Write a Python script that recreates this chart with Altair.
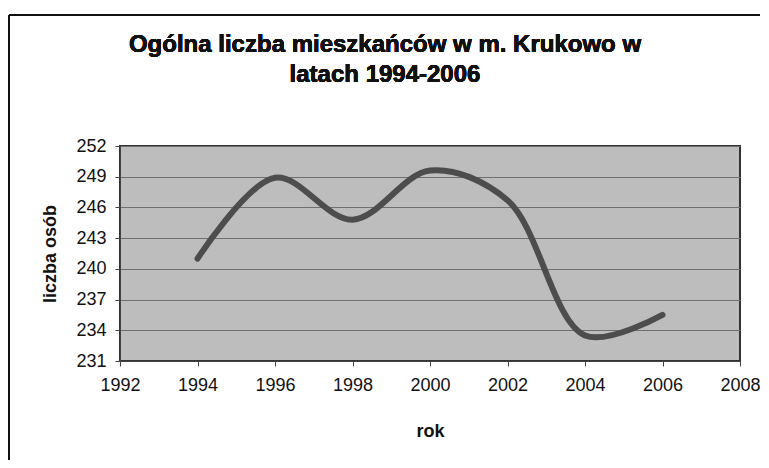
import altair as alt
import pandas as pd

years = [1994, 1996, 1998, 2000, 2002, 2004, 2006]
people = [241.0, 248.9, 244.8, 249.6, 246.7, 233.5, 235.5]

x_ticks = [1992, 1994, 1996, 1998, 2000, 2002, 2004, 2006, 2008]
y_ticks = [231, 234, 237, 240, 243, 246, 249, 252]

title_lines = ["Ogólna liczba mieszkańców w m. Krukowo w", "latach 1994-2006"]

df = pd.DataFrame({"rok": years, "liczba": people})

FONT = "Liberation Sans"

line = alt.Chart(df).mark_line(
    interpolate="catmull-rom", color="#4d4d4d", strokeWidth=6, strokeCap="round"
).encode(
    x=alt.X("rok:Q", scale=alt.Scale(domain=[1992, 2008], nice=False, zero=False),
            axis=alt.Axis(values=x_ticks, format="d", title="rok", grid=False,
                          labelFlush=False,
                          labelFontSize=18, titleFontSize=18, labelPadding=10,
                          titlePadding=28, tickSize=5, tickColor="#444",
                          domainColor="#444", labelColor="#111", titleColor="#111",
                          labelFont=FONT, titleFont=FONT, titleFontWeight="bold")),
    y=alt.Y("liczba:Q", scale=alt.Scale(domain=[231, 252], nice=False, zero=False),
            axis=alt.Axis(values=y_ticks, title="liczba osób", grid=True,
                          labelFlush=False,
                          gridColor="#6f6f6f", gridWidth=1,
                          labelFontSize=18, titleFontSize=18, labelPadding=9,
                          titlePadding=16, tickSize=5, tickColor="#444",
                          domainColor="#444", labelColor="#111", titleColor="#111",
                          labelFont=FONT, titleFont=FONT, titleFontWeight="bold")),
)

t1 = alt.Chart(df).mark_text(
    text=title_lines[0], font=FONT, fontSize=24, fontWeight="bold", color="#111",
    align="center", baseline="middle"
).encode(x=alt.value(265), y=alt.value(-101))
t2 = alt.Chart(df).mark_text(
    text=title_lines[1], font=FONT, fontSize=24, fontWeight="bold", color="#111",
    align="center", baseline="middle"
).encode(x=alt.value(265), y=alt.value(-71))

left_border = alt.Chart(df).mark_rule(color="#111", strokeWidth=2).encode(
    x=alt.value(-111), y=alt.value(-131), y2=alt.value(320)
)
top_border = alt.Chart(df).mark_rule(color="#111", strokeWidth=2).encode(
    x=alt.value(-111), x2=alt.value(640), y=alt.value(-131)
)

chart = alt.layer(line, t1, t2, left_border, top_border).properties(
    width=620,
    height=215,
    padding={"left": 112, "top": 138, "right": 21, "bottom": 99},
    autosize=alt.AutoSizeParams(type="none"),
    background="white",
).configure_view(
    fill="#bdbdbd", stroke="#333", strokeWidth=2
)

chart.save("out.html", embed_options={"renderer": "svg", "actions": False})
